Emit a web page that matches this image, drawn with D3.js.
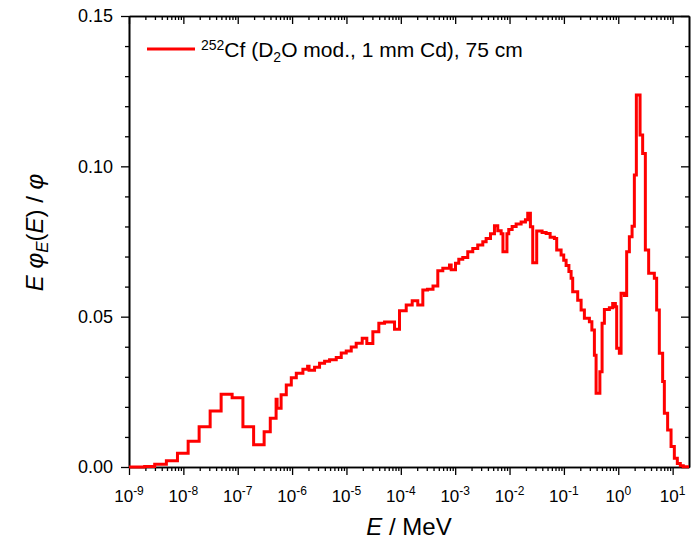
<!DOCTYPE html>
<html>
<head>
<meta charset="utf-8">
<script src="https://cdn.jsdelivr.net/npm/d3@7"></script>
<style>
  body { margin: 0; background: #fff; }
  svg text { font-family: Arial, "Liberation Sans", sans-serif; fill: #000; }
</style>
</head>
<body>
<div id="chart"></div>
<script>
// histogram bin edges in MeV (last value closes the last bin)
var binEdges = [
  1e-9, 1.94e-9, 2.97e-9, 4.87e-9, 7.79e-9, 1.225e-8, 1.95e-8, 3.11e-8, 4.95e-8, 7.89e-8,
  1.246e-7, 1.96e-7, 3.06e-7, 3.97e-7, 5.08e-7, 5.30e-7, 6.28e-7, 7.82e-7, 9.67e-7,
  1.195e-6, 1.58e-6, 1.93e-6, 2.05e-6, 2.59e-6, 3.20e-6, 3.96e-6, 4.89e-6, 6.49e-6, 8.02e-6, 9.91e-6,
  1.225e-5, 1.51e-5, 1.95e-5, 2.37e-5, 3.06e-5, 3.94e-5, 5.02e-5, 7.66e-5, 9.46e-5,
  1.257e-4, 1.62e-4, 2.05e-4, 2.54e-4, 3.10e-4, 3.91e-4, 4.79e-4, 5.92e-4, 7.86e-4, 8.44e-4,
  1.013e-3, 1.165e-3, 1.379e-3, 1.704e-3, 2.106e-3, 2.60e-3, 3.22e-3, 3.71e-3, 4.46e-3, 5.28e-3, 6.07e-3, 7.01e-3, 7.56e-3, 8.96e-3, 9.67e-3,
  1.116e-2, 1.322e-2, 1.633e-2, 1.96e-2, 2.16e-2, 2.42e-2, 2.67e-2, 3.16e-2, 3.97e-2, 4.71e-2, 5.58e-2, 6.69e-2, 7.37e-2, 8.88e-2, 9.92e-2,
  0.1098, 0.1236, 0.1356, 0.1451, 0.1794, 0.2072, 0.2381, 0.2943, 0.327, 0.3637, 0.3907, 0.4589, 0.5037, 0.5552, 0.6863, 0.7891, 0.8845, 0.9346,
  1.047, 1.126, 1.294, 1.427, 1.600, 1.794, 1.977, 2.151, 2.516, 2.809, 3.149, 3.622, 4.609, 5.08, 5.69, 6.55, 7.04, 8.09, 9.35,
  10.75, 12.2, 13.85, 15.7, 20
];

// E*phi_E(E)/phi for each bin
var fluence = [
  0.0000, 0.0002, 0.0009, 0.0021, 0.0046, 0.0086, 0.0134, 0.0186, 0.0242, 0.0230,
  0.0134, 0.0074, 0.0117, 0.0162, 0.0225, 0.0195, 0.0240, 0.0273, 0.0297,
  0.0312, 0.0325, 0.0335, 0.0322, 0.0332, 0.0345, 0.0352, 0.0357, 0.0364, 0.0379, 0.0386,
  0.0399, 0.0412, 0.0428, 0.0411, 0.0450, 0.0478, 0.0482, 0.0458, 0.0520,
  0.0539, 0.0553, 0.0539, 0.0589, 0.0591, 0.0602, 0.0653, 0.0661, 0.0672, 0.0656,
  0.0678, 0.0691, 0.0697, 0.0716, 0.0727, 0.0738, 0.0749, 0.0760, 0.0776, 0.0802, 0.0786, 0.0776, 0.0716, 0.0776, 0.0790,
  0.0800, 0.0808, 0.0815, 0.0822, 0.0844, 0.0799, 0.0679, 0.0785, 0.0780, 0.0777, 0.0764, 0.0760, 0.0722, 0.0705, 0.0688,
  0.0670, 0.0650, 0.0628, 0.0583, 0.0555, 0.0522, 0.0495, 0.0483, 0.0456, 0.0372, 0.0245, 0.0317, 0.0478, 0.0524, 0.0530, 0.0544, 0.0533, 0.0395,
  0.0378, 0.0578, 0.0570, 0.0716, 0.0766, 0.0801, 0.0971, 0.1237, 0.1104, 0.1043, 0.0722, 0.0644, 0.0628, 0.0522, 0.0378, 0.0284, 0.0179, 0.0123, 0.0068,
  0.0029, 0.0012, 0.0004, 0.0001
];

var xTickExps = [-9, -8, -7, -6, -5, -4, -3, -2, -1, 0, 1];
var yTicks = [0, 0.05, 0.10, 0.15];

// set the dimensions and margins of the graph
var margin = {top: 16, right: 3, bottom: 74, left: 129},
  width = 692 - margin.left - margin.right,
  height = 541 - margin.top - margin.bottom;

var svg = d3.select("#chart")
.append("svg")
  .attr("width", width + margin.left + margin.right)
  .attr("height", height + margin.top + margin.bottom)
.append("g")
  .attr("transform", "translate(" + margin.left + "," + margin.top + ")");

var x = d3.scaleLog().domain([1e-9, 20]).range([0, width]);
var y = d3.scaleLinear().domain([0, 0.15]).range([height, 0]);

var xMajor = xTickExps.map(function(e) { return Math.pow(10, e); });
var xMinor = [];
xTickExps.forEach(function(e) {
  for (var k = 2; k <= 9; k++) {
    var v = k * Math.pow(10, e);
    if (v < 20) xMinor.push(v);
  }
});
var yMinor = d3.range(0, 16).map(function(i) { return i / 100; })
  .filter(function(v) { return yTicks.indexOf(v) < 0; });

function styleAxis(g) {
  g.select(".domain").attr("stroke-width", 1.6);
  g.selectAll(".tick line").attr("stroke-width", 1.3);
  g.selectAll(".tick text").remove();
}

// bottom + top
svg.append("g").attr("transform", "translate(0," + height + ")")
  .call(d3.axisBottom(x).tickValues(xMinor).tickSizeInner(4).tickSizeOuter(0)).call(styleAxis);
svg.append("g").attr("transform", "translate(0," + height + ")")
  .call(d3.axisBottom(x).tickValues(xMajor).tickSizeInner(8).tickSizeOuter(0)).call(styleAxis);
svg.append("g")
  .call(d3.axisTop(x).tickValues(xMinor).tickSizeInner(-4).tickSizeOuter(0)).call(styleAxis);
svg.append("g")
  .call(d3.axisTop(x).tickValues(xMajor).tickSizeInner(-8).tickSizeOuter(0)).call(styleAxis);

// left + right
svg.append("g")
  .call(d3.axisLeft(y).tickValues(yMinor).tickSizeInner(4).tickSizeOuter(0)).call(styleAxis);
svg.append("g")
  .call(d3.axisLeft(y).tickValues(yTicks).tickSizeInner(8).tickSizeOuter(0)).call(styleAxis);
svg.append("g").attr("transform", "translate(" + width + ",0)")
  .call(d3.axisRight(y).tickValues(yMinor).tickSizeInner(-4).tickSizeOuter(0)).call(styleAxis);
svg.append("g").attr("transform", "translate(" + width + ",0)")
  .call(d3.axisRight(y).tickValues(yTicks).tickSizeInner(-8).tickSizeOuter(0)).call(styleAxis);

// tick labels
var xLab = svg.append("g").selectAll("text")
  .data(xTickExps)
  .enter().append("text")
  .attr("x", function(d) { return x(Math.pow(10, d)); })
  .attr("y", height + 35)
  .attr("text-anchor", "middle")
  .style("font-size", "17px");
xLab.append("tspan").text("10");
xLab.append("tspan").attr("dy", -7).style("font-size", "12px").text(function(d) { return d; });

svg.append("g").selectAll("text")
  .data(yTicks)
  .enter().append("text")
  .attr("x", -16)
  .attr("y", function(d) { return y(d); })
  .attr("dy", "0.36em")
  .attr("text-anchor", "end")
  .style("font-size", "18px")
  .text(d3.format(".2f"));

// axis titles
var xTitle = svg.append("text")
  .attr("x", width / 2)
  .attr("y", height + 68)
  .attr("text-anchor", "middle")
  .style("font-size", "24px");
xTitle.append("tspan").style("font-style", "italic").text("E");
xTitle.append("tspan").text(" / MeV");

var yTitle = svg.append("text")
  .attr("transform", "translate(" + (-86) + "," + (height / 2 - 9) + ") rotate(-90)")
  .attr("text-anchor", "middle")
  .style("font-size", "24px");
yTitle.append("tspan").style("font-style", "italic").text("E φ");
yTitle.append("tspan").style("font-style", "italic").style("font-size", "17px").attr("dy", 5).text("E");
yTitle.append("tspan").attr("dy", -5).text("(");
yTitle.append("tspan").style("font-style", "italic").text("E");
yTitle.append("tspan").text(") / ");
yTitle.append("tspan").style("font-style", "italic").text("φ");

// spectrum
var pts = binEdges.map(function(e, i) {
  return [e, i < fluence.length ? fluence[i] : fluence[fluence.length - 1]];
});
var line = d3.line()
  .x(function(d) { return x(d[0]); })
  .y(function(d) { return y(d[1]); })
  .curve(d3.curveStepAfter);

svg.append("path")
  .datum(pts)
  .attr("fill", "none")
  .attr("stroke", "#ff0000")
  .attr("stroke-width", 3)
  .attr("stroke-linejoin", "miter")
  .attr("d", line);

// legend
svg.append("line")
  .attr("x1", 18).attr("x2", 66)
  .attr("y1", 33).attr("y2", 33)
  .attr("stroke", "#ff0000")
  .attr("stroke-width", 3);
var leg = svg.append("text")
  .attr("x", 72)
  .attr("y", 41)
  .style("font-size", "21px");
leg.append("tspan").style("font-size", "14px").attr("dy", -7).text("252");
leg.append("tspan").attr("dy", 7).text("Cf (D");
leg.append("tspan").style("font-size", "14px").attr("dy", 5).text("2");
leg.append("tspan").attr("dy", -5).text("O mod., 1 mm Cd), 75 cm");
</script>
</body>
</html>
